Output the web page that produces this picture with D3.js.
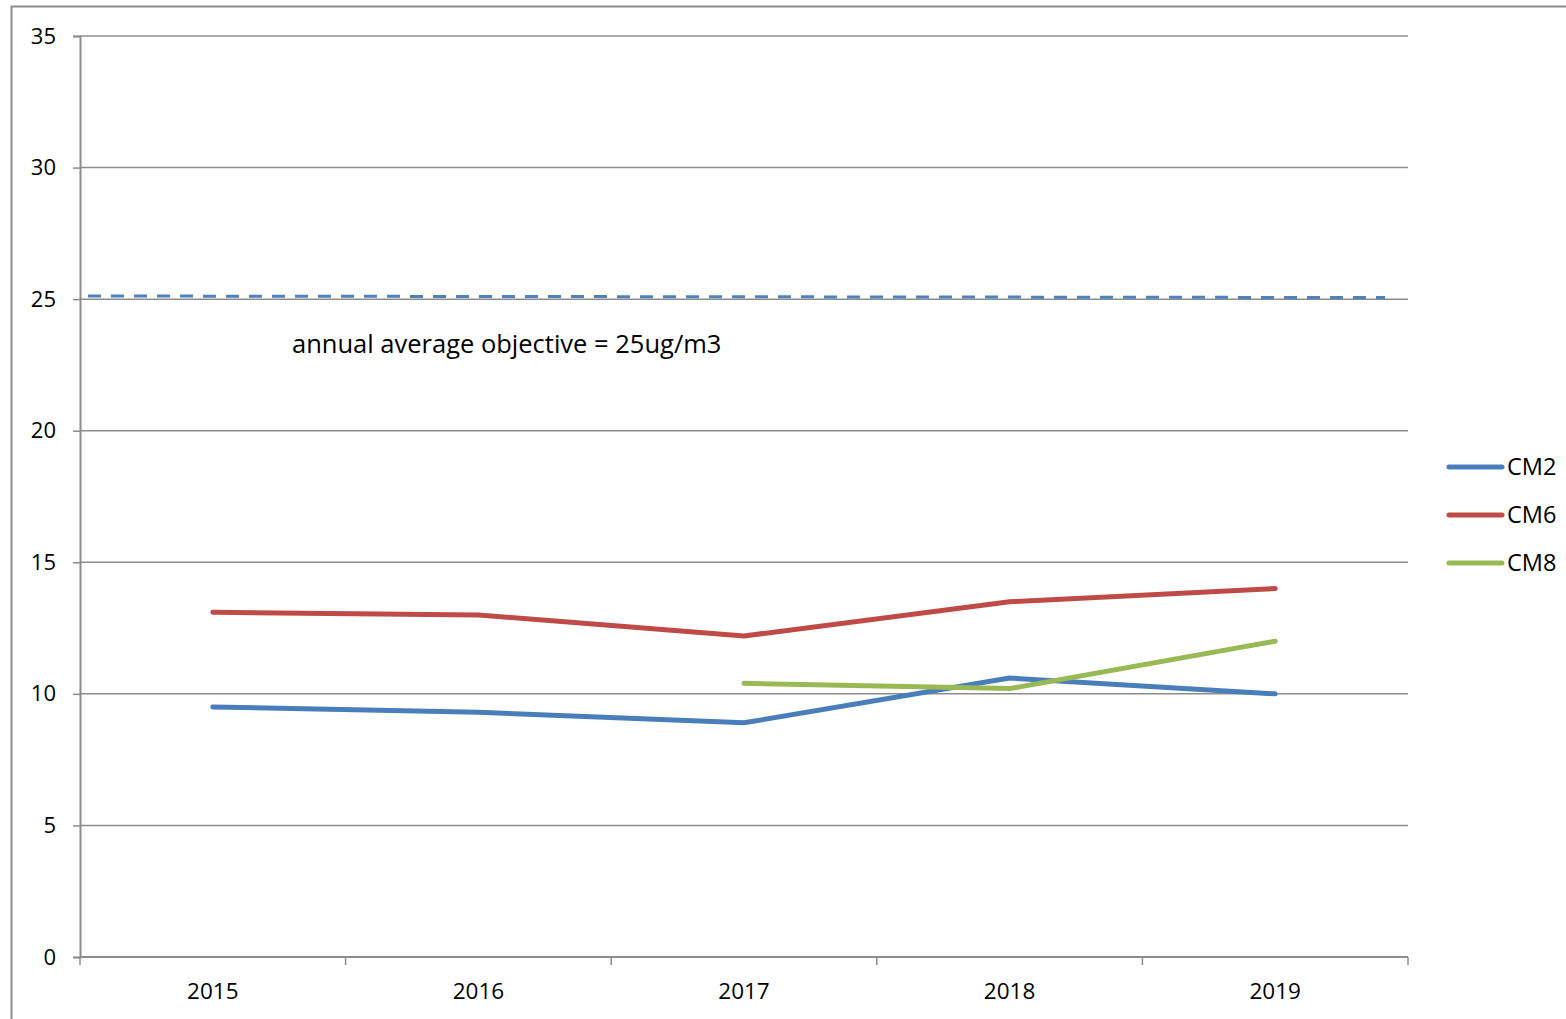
<!DOCTYPE html>
<html>
<head>
<meta charset="utf-8">
<script src="https://cdn.jsdelivr.net/npm/d3@7"></script>
<style>
  body { margin: 0; background: #fff; }
  svg { display: block; font-family: "Open Sans", sans-serif; }
</style>
</head>
<body>
<svg width="1566" height="1019"></svg>
<script>
// data
const years = ["2015", "2016", "2017", "2018", "2019"];
const cm2 = [9.5, 9.3, 8.9, 10.6, 10.0];
const cm6 = [13.1, 13.0, 12.2, 13.5, 14.0];
const cm8 = [null, null, 10.4, 10.2, 12.0];
const seriesNames = ["CM2", "CM6", "CM8"];
const seriesColors = ["#4a7ebb", "#be4b48", "#98b954"];
const yTicks = [0, 5, 10, 15, 20, 25, 30, 35];
const objective = [25.12, 25.06]; // dashed line, start / end
const objectiveLabel = "annual average objective = 25ug/m3";

const svg = d3.select("svg");
const margin = {left: 80, top: 36, right: 158, bottom: 62};
const width = +svg.attr("width"), height = +svg.attr("height");
const x0 = margin.left, x1 = width - margin.right;
const y0 = height - margin.bottom, y1 = margin.top;

// outer chart frame
svg.append("rect")
    .attr("x", 11.5).attr("y", 6.5)
    .attr("width", width).attr("height", height)
    .attr("fill", "none").attr("stroke", "#8c8c8c").attr("stroke-width", 2);

const x = d3.scaleBand().domain(years).range([x0, x1]);
const y = d3.scaleLinear().domain([0, 35]).range([y0, y1]);

// gridlines
svg.append("g").selectAll("line").data(yTicks.filter(d => d > 0)).join("line")
    .attr("x1", x0).attr("x2", x1)
    .attr("y1", d => y(d)).attr("y2", d => y(d))
    .attr("stroke", "#8c8c8c").attr("stroke-width", 1.5);

// y axis
const yAxis = svg.append("g")
    .attr("transform", `translate(${x0},0)`)
    .call(d3.axisLeft(y).tickValues(yTicks).tickSize(7).tickPadding(17));
yAxis.select(".domain").attr("stroke", "#8c8c8c").attr("stroke-width", 2);
yAxis.selectAll(".tick line").attr("stroke", "#8c8c8c").attr("stroke-width", 1.5);
yAxis.selectAll("text").attr("font-size", 22).attr("fill", "#000")
    .attr("font-family", "Open Sans");

// x axis: ticks at category boundaries
const xAxisG = svg.append("g").attr("transform", `translate(0,${y0})`);
xAxisG.append("line").attr("x1", x0).attr("x2", x1)
    .attr("stroke", "#8c8c8c").attr("stroke-width", 2);
const bounds = years.map(d => x(d)).concat([x1]);
xAxisG.selectAll(".bt").data(bounds).join("line").attr("class", "bt")
    .attr("x1", d => d).attr("x2", d => d).attr("y1", 0).attr("y2", 8)
    .attr("stroke", "#8c8c8c").attr("stroke-width", 1.5);
xAxisG.selectAll("text").data(years).join("text")
    .attr("x", d => x(d) + x.bandwidth() / 2).attr("y", 42)
    .attr("text-anchor", "middle").attr("font-size", 22.5).attr("fill", "#000")
    .text(d => d);

// objective dashed line
const ox = d3.scaleLinear().domain([0, 1]).range([x0 + 8, x1 - 23]);
svg.append("line")
    .attr("x1", ox(0)).attr("x2", ox(1))
    .attr("y1", y(objective[0])).attr("y2", y(objective[1]))
    .attr("stroke", "#4f81bd").attr("stroke-width", 3)
    .attr("stroke-dasharray", "13,10");
svg.append("text")
    .attr("x", 292).attr("y", y(22.95))
    .attr("font-size", 25.5).attr("fill", "#000")
    .text(objectiveLabel);

// series lines
const allSeries = [cm2, cm6, cm8];
const line = d3.line()
    .defined(d => d != null)
    .x((d, i) => x(years[i]) + x.bandwidth() / 2)
    .y(d => y(d));
allSeries.forEach((s, i) => {
  svg.append("path").datum(s)
      .attr("d", line)
      .attr("fill", "none")
      .attr("stroke", seriesColors[i])
      .attr("stroke-width", 5)
      .attr("stroke-linecap", "round")
      .attr("stroke-linejoin", "round");
});

// legend
const legend = svg.append("g").attr("transform", "translate(1449,467)");
const li = legend.selectAll("g").data(seriesNames).join("g")
    .attr("transform", (d, i) => `translate(0,${i * 48})`);
li.append("line").attr("x1", 0).attr("x2", 53)
    .attr("stroke", (d, i) => seriesColors[i]).attr("stroke-width", 5)
    .attr("stroke-linecap", "round");
li.append("text").attr("x", 58).attr("y", 0).attr("dy", "0.35em")
    .attr("font-size", 23.5).attr("fill", "#000").text(d => d);
</script>
</body>
</html>
